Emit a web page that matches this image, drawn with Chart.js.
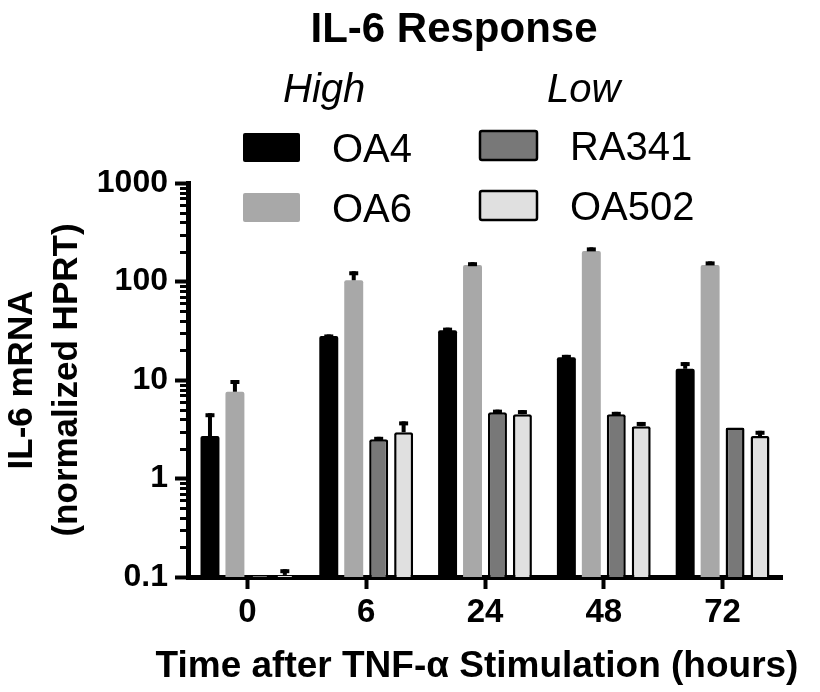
<!DOCTYPE html>
<html>
<head>
<meta charset="utf-8">
<script src="https://cdn.jsdelivr.net/npm/chart.js@4.4.0/dist/chart.umd.min.js"></script>
<style>
  html, body { margin: 0; padding: 0; background: #fff; }
  #wrap { width: 820px; height: 692px; }
</style>
</head>
<body>
<div id="wrap"><canvas id="chart" width="820" height="692"></canvas></div>
<script>
// data (means and top of error bar)
const timepoints = ["0", "6", "24", "48", "72"];
const groupNames = ["High", "Low"];
const seriesNames = ["OA4", "OA6", "RA341", "OA502"];
const oa4 = [2.7, 28, 32, 17, 13];
const oa4Err = [4.6, 29, 34, 18, 15.2];
const oa6 = [7.6, 103, 147, 204, 147];
const oa6Err = [10, 127, 157, 222, 160];
const ra341 = [0.105, 2.5, 4.7, 4.5, 3.3];
const ra341Err = [0.105, 2.65, 5.0, 4.75, 3.3];
const oa502 = [0.105, 2.95, 4.5, 3.4, 2.7];
const oa502Err = [0.12, 3.8, 4.95, 3.75, 3.05];
const yTicks = [0.1, 1, 10, 100, 1000];
const xTitle = "Time after TNF-α Stimulation (hours)";

const FONT = '"Liberation Sans", Arial, sans-serif';

// error bars (upper only, like the prism plot)
const errorBars = {
  id: "errorBars",
  afterDatasetsDraw(chart) {
    const ctx = chart.ctx;
    const y = chart.scales.y;
    ctx.save();
    ctx.fillStyle = "#000";
    chart.data.datasets.forEach((ds, i) => {
      const meta = chart.getDatasetMeta(i);
      meta.data.forEach((bar, j) => {
        const top = y.getPixelForValue(ds.errTop[j]);
        if (top >= bar.y - 0.5) return;
        ctx.fillRect(bar.x - 2, top, 4, bar.y - top);
        ctx.fillRect(bar.x - 4.5, top, 9, 4);
      });
    });
    ctx.restore();
  },
  afterDraw(chart) {
    // minor log ticks, shorter than the decade ones
    const ctx = chart.ctx;
    const y = chart.scales.y;
    const left = chart.chartArea.left;
    ctx.save();
    ctx.strokeStyle = "#000";
    ctx.lineWidth = 3;
    for (let d = 0; d < yTicks.length - 1; d++) {
      for (let k = 2; k < 10; k++) {
        const py = Math.round(y.getPixelForValue(yTicks[d] * k)) + 0.5;
        ctx.beginPath();
        ctx.moveTo(left - 8, py);
        ctx.lineTo(left, py);
        ctx.stroke();
      }
    }
    ctx.restore();
  }
};

// title, x axis title (wider than the axis) and two column legend with group headings
const headerLegend = {
  id: "headerLegend",
  afterDraw(chart) {
    const ctx = chart.ctx;
    const ds = chart.data.datasets;
    ctx.save();
    ctx.fillStyle = "#000";
    ctx.textAlign = "center";
    ctx.textBaseline = "alphabetic";
    ctx.font = "bold 42px " + FONT;
    ctx.fillText("IL-6 Response", 454, 42);

    ctx.font = "bold 37px " + FONT;
    ctx.fillText(xTitle, 477, 677);

    ctx.textAlign = "left";
    ctx.font = "italic 40px " + FONT;
    ctx.fillText(groupNames[0], 283, 102);
    ctx.fillText(groupNames[1], 547, 102);

    const cols = [
      { box: 243, text: 332, rows: [133, 193] },
      { box: 480, text: 570, rows: [131, 191] }
    ];
    ctx.font = "40px " + FONT;
    ds.forEach((d, i) => {
      const col = cols[Math.floor(i / 2)];
      const top = col.rows[i % 2];
      ctx.beginPath();
      ctx.roundRect(col.box, top, 57, 29, 2);
      ctx.fillStyle = d.backgroundColor;
      ctx.fill();
      if (d.borderWidth) {
        ctx.lineWidth = 2.5;
        ctx.strokeStyle = "#000";
        ctx.stroke();
      }
      ctx.fillStyle = "#000";
      ctx.fillText(d.label, col.text, top + 29);
    });
    ctx.restore();
  }
};

new Chart(document.getElementById("chart"), {
  type: "bar",
  data: {
    labels: timepoints,
    datasets: [
      { label: seriesNames[0], data: oa4, errTop: oa4Err, backgroundColor: "#000000", borderWidth: 0 },
      { label: seriesNames[1], data: oa6, errTop: oa6Err, backgroundColor: "#a8a8a8", borderWidth: 0 },
      { label: seriesNames[2], data: ra341, errTop: ra341Err, backgroundColor: "#787878", borderColor: "#000", borderWidth: 2.5 },
      { label: seriesNames[3], data: oa502, errTop: oa502Err, backgroundColor: "#e0e0e0", borderColor: "#000", borderWidth: 2.5 }
    ]
  },
  options: {
    responsive: false,
    animation: false,
    devicePixelRatio: 1,
    categoryPercentage: 0.84,
    barPercentage: 0.76,
    borderRadius: 2,
    layout: { padding: { top: 183, right: 38, left: 0, bottom: 0 } },
    plugins: {
      legend: { display: false },
      title: { display: false },
      tooltip: { enabled: false }
    },
    scales: {
      x: {
        afterFit(scale) { scale.height = 115; },
        grid: { offset: false, drawOnChartArea: false, tickLength: 12, tickWidth: 4, tickColor: "#000" },
        border: { color: "#000", width: 5 },
        ticks: { color: "#000", padding: 4, font: { family: FONT, size: 33, weight: "bold", lineHeight: 1.2 } },
        title: { display: false }
      },
      y: {
        type: "logarithmic",
        min: 0.1,
        max: 1000,
        afterFit(scale) { scale.width = 188; },
        afterBuildTicks(scale) { scale.ticks = yTicks.map(v => ({ value: v })); },
        grid: { drawOnChartArea: false, tickLength: 13, tickWidth: 4, tickColor: "#000" },
        border: { color: "#000", width: 5 },
        ticks: {
          color: "#000",
          padding: 7,
          font: { family: FONT, size: 32, weight: "bold" },
          callback: (v) => String(v)
        },
        title: {
          display: true,
          text: ["IL-6 mRNA", "(normalized HPRT)"],
          color: "#000",
          padding: { top: 0, bottom: 0 },
          font: { family: FONT, size: 35, weight: "bold", lineHeight: 1.28 }
        }
      }
    }
  },
  plugins: [errorBars, headerLegend]
});
</script>
</body>
</html>
